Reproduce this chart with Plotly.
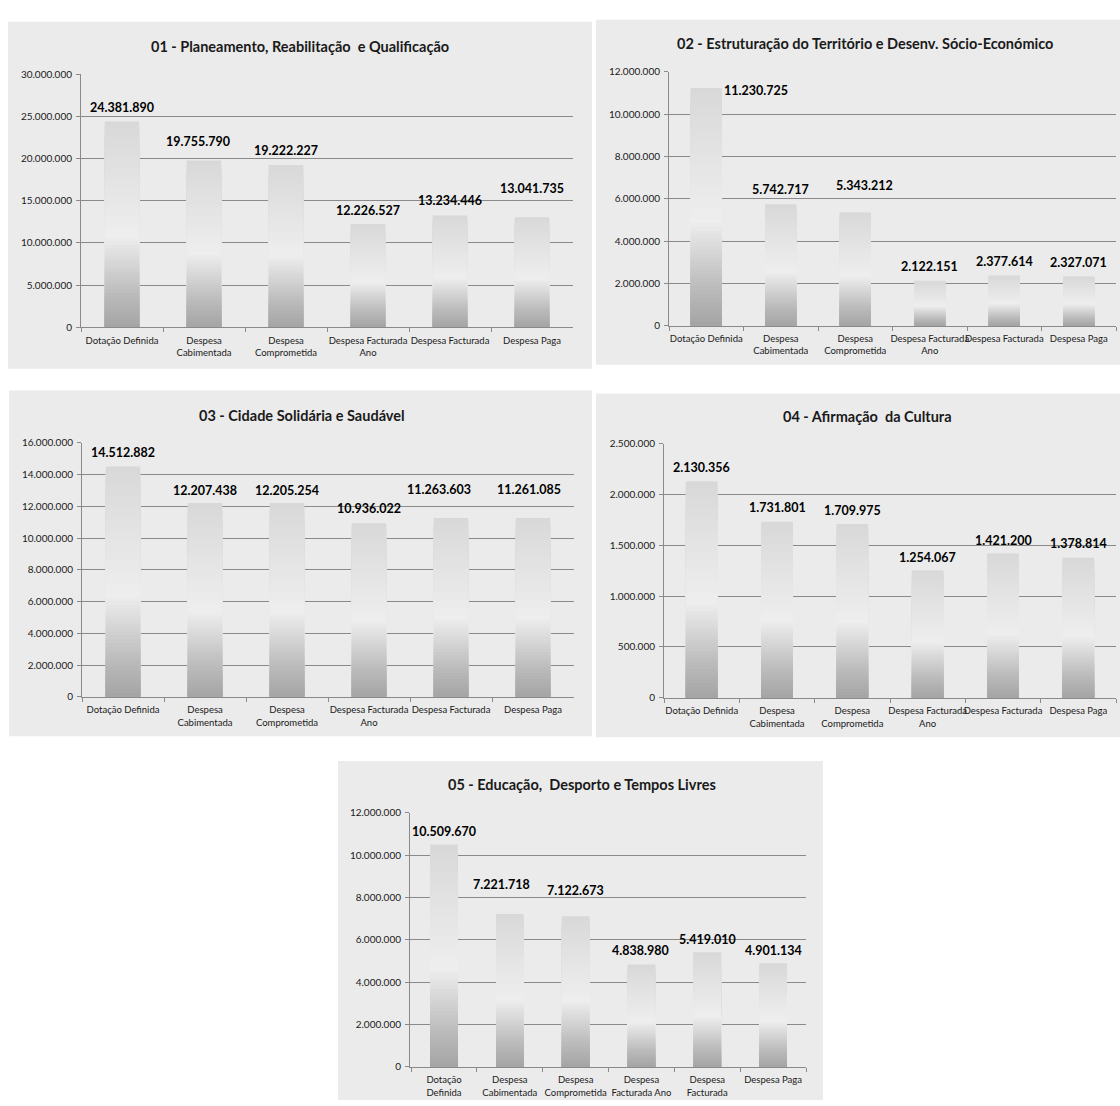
import plotly.graph_objects as go

# ---------------- data ----------------
categories = ["Dotação Definida", "Despesa Cabimentada", "Despesa Comprometida",
              "Despesa Facturada Ano", "Despesa Facturada", "Despesa Paga"]

tick_labels_wide = ["Dotação Definida", "Despesa<br>Cabimentada", "Despesa<br>Comprometida",
                    "Despesa Facturada<br>Ano", "Despesa Facturada", "Despesa Paga"]
tick_labels_narrow = ["Dotação<br>Definida", "Despesa<br>Cabimentada", "Despesa<br>Comprometida",
                      "Despesa<br>Facturada Ano", "Despesa<br>Facturada", "Despesa Paga"]

titles = ["01 - Planeamento, Reabilitação  e Qualificação",
          "02 - Estruturação do Território e Desenv. Sócio-Económico",
          "03 - Cidade Solidária e Saudável",
          "04 - Afirmação  da Cultura",
          "05 - Educação,  Desporto e Tempos Livres"]

values_01 = [24381890, 19755790, 19222227, 12226527, 13234446, 13041735]
values_02 = [11230725, 5742717, 5343212, 2122151, 2377614, 2327071]
values_03 = [14512882, 12207438, 12205254, 10936022, 11263603, 11261085]
values_04 = [2130356, 1731801, 1709975, 1254067, 1421200, 1378814]
values_05 = [10509670, 7221718, 7122673, 4838980, 5419010, 4901134]

y_max = [30000000, 12000000, 16000000, 2500000, 12000000]
y_step = [5000000, 2000000, 2000000, 500000, 2000000]

# ---------------- layout (pixels) ----------------
W, H = 1120, 1106
panels = [
    dict(bg=(8, 15, 592, 366), plot=(81, 68, 573, 324), title=(300, 40), ticks=tick_labels_wide),
    dict(bg=(596, 13, 1120, 362), plot=(669, 65.5, 1116, 322.5), title=(865, 37), ticks=tick_labels_wide),
    dict(bg=(9, 388, 592, 738), plot=(82, 441, 574, 698), title=(302, 413), ticks=tick_labels_wide),
    dict(bg=(596, 391, 1120, 739), plot=(664, 442, 1116, 699), title=(867, 414), ticks=tick_labels_wide),
    dict(bg=(338, 763, 823, 1106), plot=(410, 815.5, 806, 1072.5), title=(582, 787), ticks=tick_labels_narrow),
]
# label offsets in px (dx, dy up) relative to the bar top
label_offsets = [
    [(0, 14), (-6, 19), (0, 15), (0, 14), (0, 15), (0, 29)],
    [(50, -2), (0, 15), (9, 27), (0, 14), (0, 14), (0, 14)],
    [(0, 14), (0, 13), (0, 13), (0, 15), (-12, 28), (-4, 29)],
    [(0, 14), (0, 14), (0, 14), (0, 13), (0, 13), (0, 14)],
    [(0, 13), (-8, 30), (0, 26), (-1, 14), (0, 13), (0, 13)],
]

series = [values_01, values_02, values_03, values_04, values_05]

FONT = "Lato, 'Open Sans', sans-serif"
BG = "#ebebeb"
GRID = "#8a8a8a"
TXT = "#1a1a1a"

# gradient stops (fraction of bar height from bottom, grey level)
stops = [(0.0, 164), (0.15, 186), (0.44, 238), (0.75, 226), (1.0, 216)]
N_STEPS = 60


def grey_at(f):
    for (f0, g0), (f1, g1) in zip(stops[:-1], stops[1:]):
        if f0 <= f <= f1:
            g = g0 + (g1 - g0) * (f - f0) / (f1 - f0)
            g = int(round(g))
            return f"rgb({g},{g},{g})"
    g = stops[-1][1]
    return f"rgb({g},{g},{g})"


fig = go.Figure()
shapes = []
annotations = []

for i, (p, vals) in enumerate(zip(panels, series)):
    n = i + 1
    xa = "x" if n == 1 else f"x{n}"
    ya = "y" if n == 1 else f"y{n}"
    x0, y0, x1, y1 = p["bg"]
    shapes.append(dict(type="rect", xref="paper", yref="paper",
                       x0=x0 / W, x1=x1 / W, y0=1 - y1 / H, y1=1 - y0 / H,
                       fillcolor=BG, line=dict(width=0), layer="below"))
    px0, py0, px1, py1 = p["plot"]
    # gradient bars: overlaid bars, tallest first
    for k in range(N_STEPS, 0, -1):
        frac = k / N_STEPS
        fmid = (k - 0.5) / N_STEPS
        fig.add_trace(go.Bar(
            x=categories, y=[v * frac for v in vals],
            marker=dict(color=grey_at(fmid), line=dict(width=0)),
            xaxis=xa, yaxis=ya, showlegend=False, hoverinfo="skip",
        ))
    # labels
    for c, v, (dx, dy) in zip(categories, vals, label_offsets[i]):
        annotations.append(dict(
            x=c, y=v, xref=xa, yref=ya, text=f"{v:,}".replace(",", "."),
            showarrow=False, xanchor="center", yanchor="middle",
            xshift=dx, yshift=dy,
            font=dict(family=FONT, size=12.5, color="#000000", weight="bold"),
        ))
    # title
    tx, ty = p["title"]
    annotations.append(dict(
        x=tx / W, y=1 - ty / H, xref="paper", yref="paper", text=f"<b>{titles[i]}</b>",
        showarrow=False, xanchor="center", yanchor="middle",
        font=dict(family=FONT, size=14.5, color=TXT),
    ))
    xkey = "xaxis" if n == 1 else f"xaxis{n}"
    ykey = "yaxis" if n == 1 else f"yaxis{n}"
    fig.update_layout(**{
        xkey: dict(domain=[px0 / W, px1 / W], anchor=ya, type="category",
                   categoryorder="array", categoryarray=categories,
                   tickvals=categories, ticktext=p["ticks"],
                   showline=True, linecolor=GRID, linewidth=1,
                   ticks="outside", tickson="boundaries", ticklen=4, tickcolor=GRID,
                   ticklabelstandoff=4,
                   showgrid=False, tickangle=0, fixedrange=True,
                   tickfont=dict(family=FONT, size=9.5, color=TXT)),
        ykey: dict(domain=[1 - py1 / H, 1 - py0 / H], anchor=xa,
                   range=[0, y_max[i]], dtick=y_step[i], tick0=0,
                   tickformat=",.0f", showline=True, linecolor=GRID, linewidth=1,
                   ticks="outside", ticklen=4, tickcolor=GRID,
                   ticklabelstandoff=2,
                   showgrid=True, gridcolor=GRID, gridwidth=1, zeroline=False,
                   fixedrange=True,
                   tickfont=dict(family=FONT, size=10, color=TXT)),
    })

fig.update_layout(
    width=W, height=H, autosize=False,
    margin=dict(l=0, r=0, t=0, b=0),
    paper_bgcolor="#ffffff", plot_bgcolor="#ffffff",
    barmode="overlay", bargap=0.58,
    separators=",.",
    shapes=shapes, annotations=annotations,
    showlegend=False,
)

fig.write_html("out.html", config={"displayModeBar": False},
               post_script="document.body.style.margin='0';document.body.style.padding='0';"
                           "document.body.style.overflow='hidden';")
